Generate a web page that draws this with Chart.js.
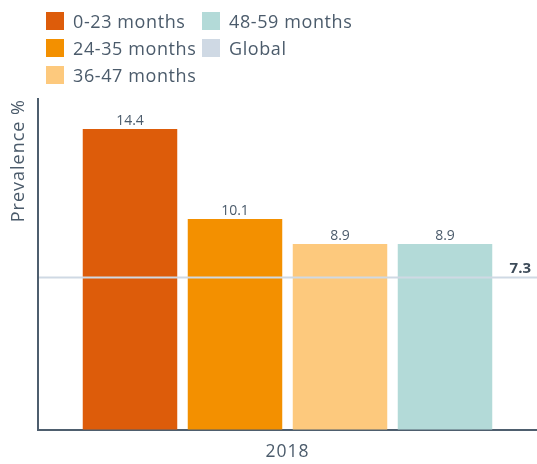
<!DOCTYPE html>
<html><head><meta charset="utf-8">
<script src="https://cdn.jsdelivr.net/npm/chart.js@4"></script>
<style>
html,body{margin:0;padding:0;background:#fff;}
#wrap{position:relative;width:537px;height:464px;}
#legend{position:absolute;left:46px;top:12px;font-family:"Open Sans",sans-serif;font-size:18px;letter-spacing:0.6px;color:#4b5b6b;}
.item{position:absolute;display:flex;align-items:center;height:18px;white-space:nowrap;}
.sw{width:18px;height:18px;margin-right:9px;flex:none;}
canvas{display:block;}
</style></head>
<body><div id="wrap"><canvas id="c" width="537" height="464"></canvas><div id="legend"></div></div>
<script>
const categories = ['2018'];
const seriesNames = ['0-23 months', '24-35 months', '36-47 months', '48-59 months'];
const seriesValues = [[14.4], [10.1], [8.9], [8.9]];
const seriesColors = ['#dd5c0a', '#f39000', '#fdc97d', '#b3dad8'];
const globalLabel = 'Global';
const globalValue = 7.3;
const globalColor = '#cfd9e4';
const yTitle = 'Prevalence %';

const textColor = '#4b5b6b';
const axisColor = '#4e5e6e';
const fontFamily = '"Open Sans", sans-serif';

// HTML legend (column layout)
const legendItems = seriesNames.map((n, i) => ({text: n, color: seriesColors[i]}));
legendItems.push({text: globalLabel, color: globalColor});
const legendPos = [[0, 0], [0, 27], [0, 54], [156, 0], [156, 27]];
const legendEl = document.getElementById('legend');
legendItems.forEach((it, i) => {
  const d = document.createElement('div');
  d.className = 'item';
  d.style.left = legendPos[i][0] + 'px';
  d.style.top = legendPos[i][1] + 'px';
  const s = document.createElement('span');
  s.className = 'sw';
  s.style.background = it.color;
  const t = document.createElement('span');
  t.textContent = it.text;
  d.appendChild(s); d.appendChild(t);
  legendEl.appendChild(d);
});

const datasets = seriesNames.map((n, i) => ({
  label: n,
  data: seriesValues[i],
  backgroundColor: seriesColors[i],
  borderWidth: 0,
  categoryPercentage: 0.8417,
  barPercentage: 0.9
}));

const spacingPlugin = {
  id: 'spacing',
  beforeDraw(chart) { chart.ctx.letterSpacing = '1px'; },
  afterDraw(chart) { chart.ctx.letterSpacing = '0px'; }
};

const globalPlugin = {
  id: 'globalLine',
  afterDatasetsDraw(chart) {
    const ctx = chart.ctx;
    const area = chart.chartArea;
    const y = chart.scales.y.getPixelForValue(globalValue);
    ctx.save();
    ctx.letterSpacing = '0px';
    ctx.strokeStyle = globalColor;
    ctx.lineWidth = 2;
    ctx.beginPath();
    ctx.moveTo(area.left + 1, y);
    ctx.lineTo(area.right, y);
    ctx.stroke();
    ctx.font = 'bold 15px ' + fontFamily;
    ctx.fillStyle = '#3d4b59';
    ctx.textAlign = 'right';
    ctx.textBaseline = 'bottom';
    ctx.fillText(globalValue.toFixed(1), area.right - 6, y - 1);
    // bar value labels
    chart.data.datasets.forEach((ds, di) => {
      const meta = chart.getDatasetMeta(di);
      meta.data.forEach((el, j) => {
        ctx.font = '14px ' + fontFamily;
        ctx.fillStyle = textColor;
        ctx.textAlign = 'center';
        ctx.textBaseline = 'bottom';
        ctx.fillText(ds.data[j].toFixed(1), el.x, el.y - 1);
      });
    });
    ctx.restore();
  }
};

Chart.defaults.font.family = fontFamily;
new Chart(document.getElementById('c'), {
  type: 'bar',
  data: {labels: categories, datasets},
  options: {
    responsive: false,
    animation: false,
    layout: {padding: {top: 99, left: 0, right: 0, bottom: 0}},
    plugins: {legend: {display: false}, tooltip: {enabled: false}},
    scales: {
      x: {
        grid: {display: true, drawOnChartArea: false, drawTicks: false, color: 'rgba(0,0,0,0)'},
        border: {display: true, color: axisColor, width: 2},
        ticks: {color: textColor, font: {size: 17.5}, padding: 12},
        afterFit(s) { s.height = 34; }
      },
      y: {
        min: 0,
        max: 15.84,
        grid: {display: true, drawOnChartArea: false, drawTicks: false, color: 'rgba(0,0,0,0)'},
        border: {display: true, color: axisColor, width: 2},
        ticks: {display: false},
        title: {display: true, text: yTitle, color: textColor, font: {size: 18}, align: 'end', padding: {top: 8, bottom: 0}},
        afterFit(s) { s.width = 38; }
      }
    }
  },
  plugins: [spacingPlugin, globalPlugin]
});
</script>
</body></html>
